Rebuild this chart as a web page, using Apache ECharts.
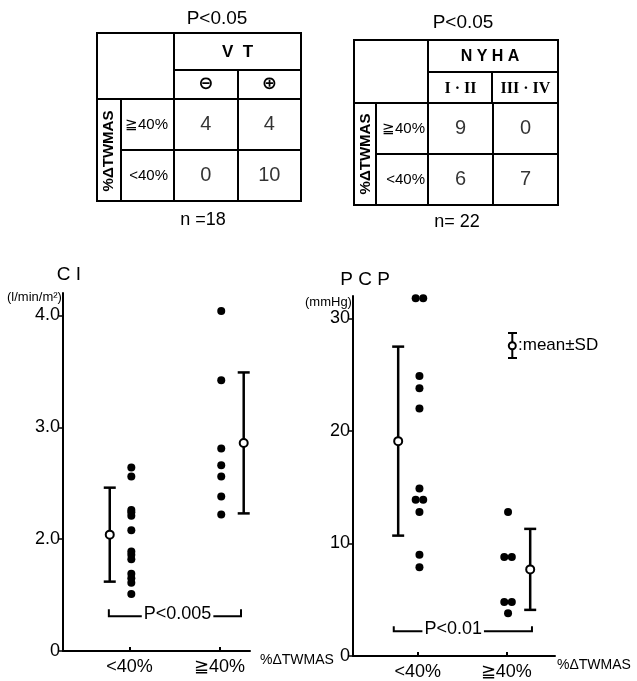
<!DOCTYPE html>
<html><head><meta charset="utf-8">
<script src="https://cdn.jsdelivr.net/npm/echarts@6/dist/echarts.min.js"></script>
<style>html,body{margin:0;padding:0;background:#fff}#c{width:637px;height:681px}</style>
</head><body><div id="c"></div>
<script>
// ---------------- data ----------------
const groups = ['<40%', '≧40%'];
const ciLow = [2.64, 2.56, 2.26, 2.24, 2.21, 2.08, 1.89, 1.86, 1.82, 1.69, 1.65, 1.61, 1.51];
const ciHigh = [4.04, 3.42, 2.81, 2.66, 2.56, 2.38, 2.22];
const ciMean = [2.04, 2.86];
const ciSD = [0.42, 0.63];
const ciTickValues = [1, 2, 3, 4];
const ciTickLabels = ['0', '2.0', '3.0', '4.0'];
const pcpLow = [31.8, 31.8, 24.9, 23.8, 22.0, 14.9, 13.9, 13.9, 12.8, 9.0, 7.9];
const pcpHigh = [12.8, 8.8, 8.8, 4.8, 4.8, 3.8];
const pcpMean = [19.1, 7.7];
const pcpSD = [8.4, 3.6];
const pcpTickValues = [0, 10, 20, 30];
const pcpTickLabels = ['0', '10', '20', '30'];
const pLabels = ['P<0.005', 'P<0.01'];
const rowLabels = ['≧40%', '<40%'];
const vtCols = ['⊖', '⊕'];
const vtCounts = [[4, 4], [0, 10]];
const nyhaCols = ['I · II', 'III · IV'];
const nyhaCounts = [[9, 0], [6, 7]];
const tableP = ['P<0.05', 'P<0.05'];
const tableN = ['n =18', 'n= 22'];
const tableHead = ['V  T', 'N Y H A'];
const rowTitle = '%ΔTWMAS';

// ---------------- helpers ----------------
const black = '#000';
const FONT = 'Liberation Sans';
const chart = echarts.init(document.getElementById('c'));

function dotData(vals, g) {
  const counts = {}, seen = {};
  vals.forEach(v => counts[v] = (counts[v] || 0) + 1);
  return vals.map(v => {
    const k = seen[v] = (seen[v] === undefined ? 0 : seen[v] + 1);
    return [g + 0.02 + (k - (counts[v] - 1) / 2) * 0.085, v];
  });
}
function countData(counts) {
  const out = [];
  counts.forEach((row, r) => row.forEach((v, c) => out.push([c, counts.length - 1 - r, v])));
  return out;
}
function pickLabel(vals, labels) {
  return v => { const i = vals.findIndex(t => Math.abs(t - v) < 1e-6); return i < 0 ? '' : labels[i]; };
}
function plotX(gi, min, max, nameGap) {
  return {
    type: 'value', gridIndex: gi, min, max, splitLine: { show: false },
    axisLine: { show: true, onZero: false, lineStyle: { color: black, width: 2 } },
    axisTick: { show: true, inside: true, length: 4, customValues: [1, 2], lineStyle: { color: black, width: 2 } },
    axisLabel: { customValues: [1, 2], formatter: v => groups[Math.round(v) - 1], color: black, fontSize: 18, fontFamily: FONT, margin: 7 },
    name: rowTitle, nameLocation: 'end', nameGap,
    nameTextStyle: { color: black, fontSize: 14, fontFamily: FONT, verticalAlign: 'top', padding: [2, 0, 0, 0] }
  };
}
function plotY(gi, min, max, vals, labels) {
  return {
    type: 'value', gridIndex: gi, min, max, splitLine: { show: false },
    axisLine: { show: true, onZero: false, lineStyle: { color: black, width: 2 } },
    axisTick: { show: true, length: 4, customValues: vals, lineStyle: { color: black, width: 1.5 } },
    axisLabel: { customValues: vals, formatter: pickLabel(vals, labels), color: black, fontSize: 18, fontFamily: FONT, margin: 3 }
  };
}
function tabX(gi, cats, family, size) {
  return {
    type: 'category', gridIndex: gi, data: cats, position: 'top',
    axisLine: { show: false }, axisTick: { show: false },
    axisLabel: { color: black, fontSize: size, fontFamily: family, fontWeight: 'bold', margin: 6, interval: 0 },
    splitLine: { show: true, interval: 0, lineStyle: { color: black, width: 2 } }
  };
}
function tabY(gi, margin, size) {
  return {
    type: 'category', gridIndex: gi, data: rowLabels.slice().reverse(),
    axisLine: { show: false }, axisTick: { show: false },
    axisLabel: { color: black, fontSize: size, fontFamily: FONT, margin, interval: 0 },
    splitLine: { show: true, interval: 0, lineStyle: { color: black, width: 2 } }
  };
}
function errRender(params, api) {
  const x = api.value(0), m = api.value(1), s = api.value(2);
  const pm = api.coord([x, m]), ph = api.coord([x, m + s]), pl = api.coord([x, m - s]);
  const st = { stroke: black, lineWidth: 2.5 };
  return { type: 'group', children: [
    { type: 'line', shape: { x1: ph[0], y1: ph[1], x2: pl[0], y2: pl[1] }, style: st },
    { type: 'line', shape: { x1: ph[0] - 6, y1: ph[1], x2: ph[0] + 6, y2: ph[1] }, style: st },
    { type: 'line', shape: { x1: pl[0] - 6, y1: pl[1], x2: pl[0] + 6, y2: pl[1] }, style: st },
    { type: 'circle', shape: { cx: pm[0], cy: pm[1], r: 4 }, style: { fill: '#fff', stroke: black, lineWidth: 2 } }
  ]};
}
function bracketRender(label, frac, tick) {
  return function (params, api) {
    const a = api.coord([api.value(0), api.value(2)]), b = api.coord([api.value(1), api.value(2)]);
    const tx = a[0] + (b[0] - a[0]) * frac;
    return { type: 'group', children: [
      { type: 'polyline', shape: { points: [[a[0], a[1] - tick], [a[0], a[1]], [b[0], b[1]], [b[0], b[1] - tick]] },
        style: { stroke: black, lineWidth: 2, fill: null } },
      { type: 'text', x: tx, y: a[1] - 2, z2: 10,
        style: { text: label, fill: black, fontSize: 18, fontFamily: FONT, align: 'center', verticalAlign: 'middle',
          backgroundColor: '#fff', padding: [0, 2] } }
    ]};
  };
}
function L(x1, y1, x2, y2) {
  return { type: 'line', shape: { x1, y1, x2, y2 }, style: { stroke: black, lineWidth: 2 } };
}
function T(x, y, text, size, extra, rotation) {
  const el = { type: 'text', x, y, style: Object.assign({ text, fill: black, fontSize: size, fontFamily: FONT, align: 'center', verticalAlign: 'middle' }, extra || {}) };
  if (rotation) el.rotation = rotation;
  return el;
}

const dotStyle = { color: black, opacity: 1 };
const option = {
  backgroundColor: '#fff',
  animation: false,
  grid: [
    { left: 174, top: 99, width: 127, height: 102, show: true, borderColor: black, borderWidth: 2 },
    { left: 428, top: 103, width: 130, height: 102, show: true, borderColor: black, borderWidth: 2 },
    { left: 63, top: 293, width: 187, height: 358 },
    { left: 353, top: 296, width: 202, height: 360 }
  ],
  xAxis: [
    tabX(0, vtCols, 'DejaVu Sans', 18),
    tabX(1, nyhaCols, 'Liberation Serif', 16),
    plotX(2, 0.26, 2.34, 10),
    plotX(3, 0.27, 2.55, 2)
  ],
  yAxis: [
    tabY(0, 6, 15),
    tabY(1, 3, 15),
    plotY(2, 1, 4.2, ciTickValues, ciTickLabels),
    plotY(3, 0, 32, pcpTickValues, pcpTickLabels)
  ],
  series: [
    { type: 'scatter', xAxisIndex: 0, yAxisIndex: 0, symbolSize: 0, data: countData(vtCounts),
      label: { show: true, position: 'inside', formatter: p => p.value[2], color: black, fontSize: 20, fontFamily: FONT } },
    { type: 'scatter', xAxisIndex: 1, yAxisIndex: 1, symbolSize: 0, data: countData(nyhaCounts),
      label: { show: true, position: 'inside', formatter: p => p.value[2], color: black, fontSize: 20, fontFamily: FONT } },
    { type: 'scatter', xAxisIndex: 2, yAxisIndex: 2, symbolSize: 8, itemStyle: dotStyle,
      data: dotData(ciLow, 1).concat(dotData(ciHigh, 2)) },
    { type: 'custom', xAxisIndex: 2, yAxisIndex: 2, renderItem: errRender, z: 3,
      data: [[1 - 0.22, ciMean[0], ciSD[0]], [2 + 0.27, ciMean[1], ciSD[1]]] },
    { type: 'custom', xAxisIndex: 2, yAxisIndex: 2, renderItem: bracketRender(pLabels[0], 0.52, 7),
      data: [[0.77, 2.24, 1.31]] },
    { type: 'scatter', xAxisIndex: 3, yAxisIndex: 3, symbolSize: 8, itemStyle: dotStyle,
      data: dotData(pcpLow, 1).concat(dotData(pcpHigh, 2)) },
    { type: 'custom', xAxisIndex: 3, yAxisIndex: 3, renderItem: errRender, z: 3,
      data: [[1 - 0.22, pcpMean[0], pcpSD[0]], [2 + 0.27, pcpMean[1], pcpSD[1]]] },
    { type: 'custom', xAxisIndex: 3, yAxisIndex: 3, renderItem: bracketRender(pLabels[1], 0.43, 5),
      data: [[0.73, 2.29, 2.2]] }
  ],
  graphic: [
    // table 1 frame
    { type: 'rect', shape: { x: 97, y: 33, width: 204, height: 168 }, style: { fill: null, stroke: black, lineWidth: 2 } },
    L(174, 33, 174, 99), L(174, 70, 301, 70), L(238, 70, 238, 99), L(97, 99, 301, 99),
    L(121, 99, 121, 201), L(121, 150, 174, 150),
    T(237.5, 52, tableHead[0], 17, { fontWeight: 'bold' }),
    T(109, 151, rowTitle, 15, { fontWeight: 'bold' }, Math.PI / 2),
    T(217, 19, tableP[0], 19), T(203, 220, tableN[0], 18),
    // table 2 frame
    { type: 'rect', shape: { x: 354, y: 40, width: 204, height: 165 }, style: { fill: null, stroke: black, lineWidth: 2 } },
    L(428, 40, 428, 103), L(428, 72, 558, 72), L(492, 72, 492, 103), L(354, 103, 558, 103),
    L(376, 103, 376, 205), L(376, 154, 428, 154),
    T(490, 57, tableHead[1], 16, { fontWeight: 'bold' }),
    T(366, 154, rowTitle, 15, { fontWeight: 'bold' }, Math.PI / 2),
    T(463, 23, tableP[1], 19), T(457, 222, tableN[1], 18),
    // plot titles
    T(69, 275, 'C I', 19), T(7, 297, '(l/min/m²)', 13, { align: 'left' }),
    T(365, 280, 'P C P', 19), T(305, 302, '(mmHg)', 13, { align: 'left' }),
    // legend mean±SD
    L(512.3, 333, 512.3, 358), L(508, 333, 517, 333), L(508, 358, 517, 358),
    { type: 'circle', shape: { cx: 512.3, cy: 345.7, r: 3.5 }, style: { fill: '#fff', stroke: black, lineWidth: 2 } },
    T(518, 345.7, ':mean±SD', 17, { align: 'left' })
  ]
};
chart.setOption(option);
</script>
</body></html>
